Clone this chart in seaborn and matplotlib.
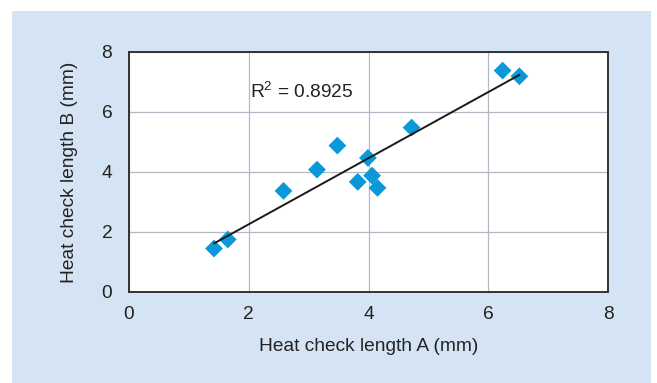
import numpy as np
import pandas as pd
import matplotlib
matplotlib.use("Agg")
import matplotlib.pyplot as plt
from matplotlib.patches import Rectangle
import seaborn as sns

# Paired heat check measurements (mm)
length_a = [1.42, 1.65, 2.58, 3.14, 3.48, 3.82, 3.99, 4.06, 4.15, 4.72, 6.24, 6.52]
length_b = [1.45, 1.75, 3.37, 4.08, 4.88, 3.67, 4.47, 3.88, 3.47, 5.48, 7.38, 7.19]
r_squared_label = "0.8925"
ticks = [0, 2, 4, 6, 8]

df = pd.DataFrame({"A": length_a, "B": length_b})

sns.set_theme(style="white")
plt.rcParams["font.family"] = ["Liberation Sans", "DejaVu Sans"]
plt.rcParams["mathtext.default"] = "regular"

W, H = 657, 383
fig = plt.figure(figsize=(W / 100, H / 100), dpi=100)
fig.patch.set_facecolor("white")

# light blue panel behind the chart
panel = Rectangle((12 / W, 0), (651 - 12) / W, 1 - 11 / H,
                  transform=fig.transFigure, facecolor="#d4e4f4",
                  edgecolor="none", zorder=-10)
fig.patches.append(panel)

ax = fig.add_axes([129 / W, 1 - 292 / H, (608 - 129) / W, (292 - 52) / H])
ax.set_zorder(1)
ax.set_facecolor("white")

sns.regplot(data=df, x="A", y="B", ax=ax, ci=None, truncate=True,
            marker="D",
            scatter_kws=dict(s=82, color="#0a98d8", edgecolors="none",
                             alpha=1, zorder=3),
            line_kws=dict(color="#1a1a1a", lw=1.4, zorder=4))

ax.set_xlim(0, 8)
ax.set_ylim(0, 8)
ax.set_xticks(ticks)
ax.set_yticks(ticks)
ax.grid(True, color="#b4b8c4", lw=0.9)
ax.set_axisbelow(True)
for s in ax.spines.values():
    s.set_visible(True)
    s.set_color("#333333")
    s.set_linewidth(1.4)

fs = 13.8
ax.tick_params(axis="x", length=0, labelsize=fs, colors="#222222", pad=10)
ax.tick_params(axis="y", length=0, labelsize=fs, colors="#222222", pad=12)
ax.set_xlabel("Heat check length A (mm)", fontsize=fs, color="#222222", labelpad=11)
ax.set_ylabel("Heat check length B (mm)", fontsize=fs, color="#222222", labelpad=17)

ax.text(2.02, 6.67, "R$^2$ = " + r_squared_label, fontsize=fs, color="#222222",
        va="center", ha="left")

fig.savefig("out.png", dpi=100, facecolor=fig.get_facecolor())
